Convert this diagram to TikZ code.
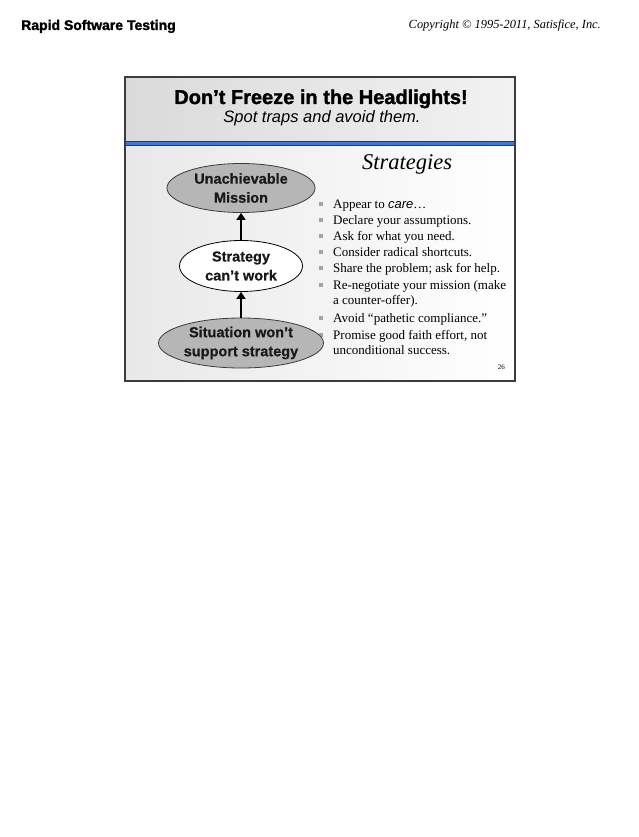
\documentclass[tikz,border=0pt]{standalone}
\usepackage{fontspec}
\setmainfont{Liberation Serif}
\setsansfont{Liberation Sans}
\newfontfamily\heavyfont[FakeBold=1.6]{Liberation Sans Bold}
\newfontfamily\ellfont[FakeBold=0.6]{Liberation Sans Bold}
\usetikzlibrary{shapes.geometric,arrows.meta}
\definecolor{blueband}{RGB}{60,122,214}
\definecolor{darkband}{RGB}{30,60,110}
\definecolor{framecol}{RGB}{60,60,60}
\definecolor{ellgray}{RGB}{182,182,182}
\definecolor{bulletgray}{RGB}{165,165,165}
\definecolor{titlegrayA}{RGB}{218,218,218}
\definecolor{titlegrayB}{RGB}{242,242,242}
\definecolor{bodygrayA}{RGB}{232,232,232}
\tikzset{
  ellbox/.style={ellipse, draw=framecol, line width=0.8pt, fill=ellgray, inner sep=0pt,
    align=center, font=\ellfont\fontsize{14.5}{19}\selectfont, text=black!90},
  ellwhite/.style={ellbox, fill=white, draw=black},
  arr/.style={line width=2.6pt, -{Triangle[length=7pt,width=9pt]}},
  bline/.style={anchor=base west, inner sep=0pt, font=\fontsize{13}{16}\selectfont},
  bsq/.style={fill=bulletgray},
}
\begin{document}
\begin{tikzpicture}[x=1pt,y=-1pt]
\useasboundingbox (0,0) rectangle (638,837);
\fill[white] (0,0) rectangle (638,837);
% page header
\node[anchor=base west, inner sep=0pt, font=\heavyfont\fontsize{14}{16}\selectfont] (hdr) at (21,30) {Rapid Software Testing};
\node[anchor=base east, inner sep=0pt, font=\itshape\fontsize{12.4}{14}\selectfont] (copy) at (601,29) {Copyright © 1995-2011, Satisfice, Inc.};
% slide background
\shade[left color=titlegrayA, right color=titlegrayB] (125,77) rectangle (515,141);
\shade[left color=bodygrayA, right color=white] (125,145) rectangle (515,381);
\fill[blueband] (125,141) rectangle (515,145);
\draw[darkband, line width=0.7pt] (125,141) -- (515,141) (125,145) -- (515,145);
\draw[framecol, line width=1.4pt] (125,77) rectangle (515,381);
% titles
\node[anchor=base, inner sep=0pt, font=\heavyfont\fontsize{20}{24}\selectfont] (title) at (321,104) {Don’t Freeze in the Headlights!};
\node[anchor=base, inner sep=0pt, font=\sffamily\itshape\fontsize{16.5}{20}\selectfont] (sub) at (322,123) {Spot traps and avoid them.};
\node[anchor=base, inner sep=0pt, font=\itshape\fontsize{22.5}{26}\selectfont] (strat) at (407,170) {Strategies};
% bullets
\foreach \yy in {208,224,240,256,272,289,322,339} {
  \fill[bsq] (319,\yy-6) rectangle (323,\yy-2);
}
\node[bline] (b1) at (333,208) {Appear to {\sffamily\itshape care}…};
\node[bline] (b2) at (333,224) {Declare your assumptions.};
\node[bline] (b3) at (333,240) {Ask for what you need.};
\node[bline] (b4) at (333,256) {Consider radical shortcuts.};
\node[bline] (b5) at (333,272) {Share the problem; ask for help.};
\node[bline] (b6) at (333,289) {Re-negotiate your mission (make};
\node[bline] (b6b) at (333,304) {a counter-offer).};
\node[bline] (b7) at (333,322) {Avoid “pathetic compliance.”};
\node[bline] (b8) at (333,339) {Promise good faith effort, not};
\node[bline] (b8b) at (333,354) {unconditional success.};
\node[anchor=base east, inner sep=0pt, font=\fontsize{7}{8}\selectfont] (pg) at (505,369) {26};
% ellipses
\node[ellbox, minimum width=148pt, minimum height=49pt] (e1) at (241,188) {Unachievable\\Mission};
\node[ellwhite, minimum width=123pt, minimum height=51pt] (e2) at (241,266) {Strategy\\can’t work};
\node[ellbox, minimum width=165pt, minimum height=50pt] (e3) at (241,343) {Situation won’t\\support strategy};
\draw[arr] (e2.north) -- (e1.south);
\draw[arr] (e3.north) -- (e2.south);
\end{tikzpicture}
\end{document}
